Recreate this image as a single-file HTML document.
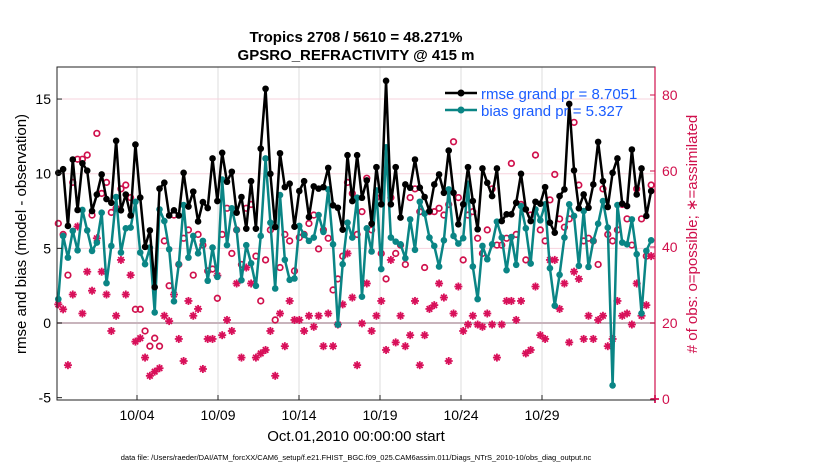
<!DOCTYPE html>
<html><head><meta charset="utf-8">
<style>
html,body{margin:0;padding:0;background:#fff;}
svg{display:block;font-family:"Liberation Sans",sans-serif;}
</style></head>
<body>
<svg id="chart" width="830" height="470" viewBox="0 0 830 470" xmlns="http://www.w3.org/2000/svg">
<rect x="0" y="0" width="830" height="470" fill="#fff"/>
<g id="grid"></g>
<g id="series"></g>
<rect x="57" y="67" width="598" height="333" fill="none" stroke="#222" stroke-width="1"/>
<line x1="655" y1="67" x2="655" y2="400" stroke="#d0104c" stroke-width="1.2"/>
<g id="axes"></g>
<text x="356" y="42" text-anchor="middle" font-size="15" font-weight="bold">Tropics 2708 / 5610 = 48.271%</text>
<text x="356" y="60" text-anchor="middle" font-size="15" font-weight="bold">GPSRO_REFRACTIVITY @ 415 m</text>
<text transform="translate(26,234) rotate(-90)" text-anchor="middle" font-size="15">rmse and bias (model - observation)</text>
<text transform="translate(697,234) rotate(-90)" text-anchor="middle" font-size="15" fill="#d0104c"># of obs: o=possible; ∗=assimilated</text>
<text x="356" y="441" text-anchor="middle" font-size="15">Oct.01,2010 00:00:00 start</text>
<text x="356" y="460" text-anchor="middle" font-size="7.5">data file: /Users/raeder/DAI/ATM_forcXX/CAM6_setup/f.e21.FHIST_BGC.f09_025.CAM6assim.011/Diags_NTrS_2010-10/obs_diag_output.nc</text>
<g>
  <line x1="445" y1="93" x2="477" y2="93" stroke="#000" stroke-width="2.5"/>
  <circle cx="461" cy="93" r="3.5" fill="#000"/>
  <text x="481" y="99" font-size="15" fill="#1a5cff">rmse grand pr = 8.7051</text>
  <line x1="445" y1="110" x2="477" y2="110" stroke="#0a8585" stroke-width="2.5"/>
  <circle cx="461" cy="110" r="3.5" fill="#0a8585"/>
  <text x="481" y="116" font-size="15" fill="#1a5cff">bias grand pr = 5.327</text>
</g>
</svg>
<script>
const rmse = [10.06,10.3,6.5,10.95,7.57,10.7,10.2,7.5,8.6,9.95,8.3,8.05,12.2,7.55,8.6,7.2,11.95,8.4,5.1,6.2,2.4,9.0,9.4,7.2,7.55,7.2,10.06,7.8,8.8,6.8,8.1,7.7,
11.02,8.17,11.4,9.46,10.13,7.39,8.44,6.32,9.5,6.32,11.68,15.69,9.99,6.43,11.37,9.1,9.33,6.45,8.84,9.5,7.1,9.15,9.0,9.1,10.39,7.88,7.72,6.25,11.24,8.17,11.24,
8.39,9.55,6.65,10.44,7.95,16.22,7.95,10.44,7.06,9.28,9.06,10.95,9.06,8.44,7.5,9.28,9.95,8.72,11.55,8.72,6.61,7.95,10.44,8.17,6.28,10.35,9.39,8.5,10.35,6.83,7.28,
7.28,8.06,9.99,7.61,6.83,8.12,7.99,9.1,6.72,6.05,8.5,8.95,14.67,10.22,7.68,8.61,7.72,9.28,12.13,9.5,7.77,10.06,11.02,7.99,7.83,11.62,8.61,10.35,7.17,8.84];
const bias = [1.6,5.83,4.38,6.17,4.87,7.57,6.2,4.83,5.39,7.39,2.67,5.16,8.44,4.72,6.34,6.39,8.12,4.72,3.94,5.05,0.71,7.61,6.83,4.94,1.45,3.94,7.9,4.38,5.83,4.67,5.5,2.83,
5.05,3.09,9.61,5.21,7.68,6.23,2.87,5.21,4.0,2.49,5.83,11.02,6.72,2.31,8.57,4.23,2.89,2.98,6.5,5.9,5.5,5.72,7.23,6.1,8.95,5.27,-0.11,3.94,6.72,5.72,8.39,
1.76,6.34,4.79,8.88,3.61,11.77,5.72,5.45,5.27,4.34,6.94,4.9,8.12,7.32,5.72,5.16,3.78,5.54,8.95,5.83,5.32,5.68,9.33,3.78,1.6,5.16,4.27,5.27,6.79,5.72,3.54,
5.76,3.9,7.83,6.34,3.98,7.61,6.88,7.95,3.67,1.16,3.23,5.72,7.95,7.17,3.83,7.5,3.76,5.5,6.65,8.17,6.39,-4.18,7.9,5.39,5.27,6.94,4.61,0.65,4.83,5.54];
const possible = [46.2,43.3,32.6,57.0,63.1,63.1,64.2,48.4,69.9,54.1,57.0,49.1,50.2,55.3,56.3,53.0,23.6,23.6,17.9,13.9,16.0,13.9,41.6,29.8,48.4,35.4,42.3,44.5,32.6,43.3,40.5,33.7,
34.2,26.5,43.3,50.2,38.3,44.5,35.4,50.2,51.2,37.6,25.8,36.6,44.5,20.8,34.6,43.3,41.6,33.7,42.5,43.3,46.2,48.4,39.5,44.5,42.3,28.7,31.6,37.6,57.0,54.1,43.3,
49.3,58.1,44.5,53.0,38.3,31.6,53.0,38.3,40.5,35.4,53.0,55.3,49.3,34.6,49.3,49.3,50.2,48.4,51.2,67.7,53.0,36.6,48.4,49.3,42.3,38.3,44.5,55.3,40.5,40.5,42.3,
62.0,43.3,51.2,36.6,48.4,64.2,44.5,41.6,52.4,59.1,47.4,45.2,47.4,72.8,56.3,41.6,42.3,41.6,35.4,55.3,43.3,41.6,44.5,51.2,47.4,40.5,55.3,47.4,37.6,56.3];
const assimilated = [24.9,23.6,8.9,27.5,45.4,22.5,33.5,28.5,42.3,33.5,27.5,17.9,21.9,36.6,27.5,32.6,15.1,16.0,10.9,6.1,7.2,8.1,21.9,20.5,27.5,15.8,10.0,25.8,21.9,23.7,7.9,15.8,
15.8,32.5,16.8,20.8,17.9,30.4,10.9,34.6,30.4,10.9,12.0,12.9,17.9,6.1,22.5,13.9,25.8,20.8,20.8,17.9,21.9,19.0,21.9,13.9,22.5,13.9,19.6,24.9,38.3,26.7,8.9,
19.9,30.4,17.9,21.9,25.8,12.9,36.6,14.9,21.9,13.9,16.8,25.8,8.9,16.8,23.7,24.7,30.4,26.7,10.0,22.5,29.6,17.9,19.6,21.9,19.6,19.0,22.5,19.6,10.9,19.6,25.8,
25.8,20.8,25.8,12.0,12.9,29.6,16.8,15.8,36.6,36.6,23.7,30.4,14.9,33.5,31.6,15.8,21.9,15.8,20.8,21.9,13.9,15.8,25.8,21.9,22.5,19.6,30.4,21.9,24.7,37.6];
const leftTicks = [-5,0,5,10,15];
const rightTicks = [0,20,40,60,80];
const xTickLabels = ["10/04","10/09","10/14","10/19","10/24","10/29"];
const xTickDays = [3,8,13,18,23,28];

const NS="http://www.w3.org/2000/svg";
const PX0=57, PX1=655, PY0=67, PY1=400;
const yL = v => 323 - v*14.93;
const yR = v => 399 - v*3.8;
const xIdx = i => 58.3 + i*4.82;
const xDay = d => 88.4 + d*16.2;
function mk(tag, attrs, parent){const e=document.createElementNS(NS,tag);for(const k in attrs)e.setAttribute(k,attrs[k]);parent.appendChild(e);return e;}
const grid=document.getElementById('grid'), ser=document.getElementById('series'), axes=document.getElementById('axes');

xTickDays.forEach((d,k)=>{
  const x=xDay(d);
  const g=mk('line',{x1:x,y1:PY0,x2:x,y2:PY1,stroke:'#dcdcdc','stroke-width':1},grid);
  
  
  const t=mk('line',{x1:x,y1:PY1,x2:x,y2:PY1-5,stroke:'#222'},axes);
  
  
  const l=mk('text',{x:x,y:420,'text-anchor':'middle','font-size':14},axes);
  l.textContent=xTickLabels[k];
  
  
});
leftTicks.forEach(v=>{
  const y=yL(v);
  if(v>-5){
    const g=mk('line',{x1:PX0,y1:y,x2:PX1,y2:y,stroke:v===0?'#c8b4bc':'#f7d3de','stroke-width':v===0?2:1},grid);
    
    
  }
  const t=mk('line',{x1:PX0,y1:y,x2:PX0+5,y2:y,stroke:'#222'},axes);
  
  
  const l=mk('text',{x:PX0-6,y:y+5,'text-anchor':'end','font-size':14},axes);
  l.textContent=String(v);
  
  
});
rightTicks.forEach(v=>{
  const y=yR(v);
  const t=mk('line',{x1:PX1,y1:y,x2:PX1-5,y2:y,stroke:'#d0104c'},axes);
  
  
  const l=mk('text',{x:PX1+7,y:y+5,'font-size':14,fill:'#d0104c'},axes);
  l.textContent=String(v);
  
  
});

// assimilated stars
assimilated.forEach((v,i)=>{
  const x=xIdx(i), y=yR(v), r=4;
  const g=mk('g',{stroke:'#d8105a','stroke-width':1.8},ser);
  
  
  mk('line',{x1:x-r,y1:y,x2:x+r,y2:y},g);
  mk('line',{x1:x,y1:y-r,x2:x,y2:y+r},g);
  mk('line',{x1:x-r*0.7,y1:y-r*0.7,x2:x+r*0.7,y2:y+r*0.7},g);
  mk('line',{x1:x-r*0.7,y1:y+r*0.7,x2:x+r*0.7,y2:y-r*0.7},g);
});
// possible circles
possible.forEach((v,i)=>{
  const c=mk('circle',{cx:xIdx(i),cy:yR(v),r:2.8,fill:'none',stroke:'#d0104c','stroke-width':1.7},ser);
  
  
});
function drawLine(arr,color,name){
  const p=mk('polyline',{points:arr.map((v,i)=>xIdx(i)+','+yL(v)).join(' '),fill:'none',stroke:color,'stroke-width':2.5,'stroke-linejoin':'round'},ser);
  
  
  arr.forEach((v,i)=>{
    const c=mk('circle',{cx:xIdx(i),cy:yL(v),r:3.3,fill:color},ser);
    
    
  });
}
drawLine(bias,'#0a8585','bias');
drawLine(rmse,'#000','rmse');
// final zero-count star at right edge
(function(){const x=655,y=yR(0),r=4;const g=mk('g',{stroke:'#d8105a','stroke-width':1.8},ser);


mk('line',{x1:x-r,y1:y,x2:x+r,y2:y},g);mk('line',{x1:x,y1:y-r,x2:x,y2:y+r},g);})();
</script>
</body></html>
